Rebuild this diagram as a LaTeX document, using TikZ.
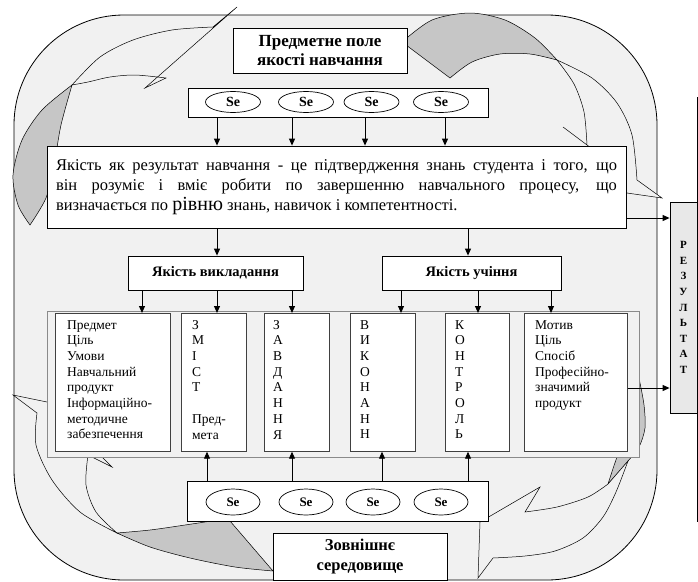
\documentclass[tikz,border=0pt]{standalone}
\usepackage{fontspec}
\setmainfont{Liberation Serif}
\usetikzlibrary{arrows.meta,shapes.geometric}
\definecolor{bgfill}{HTML}{F1F1F1}
\definecolor{backgray}{HTML}{C6C6C6}
\definecolor{resfill}{HTML}{E8E8E8}
\definecolor{framegray}{HTML}{8A8A8A}
\begin{document}
\begin{tikzpicture}[x=1pt,y=-1pt,
  box/.style={draw=black, fill=white, line width=0.8pt, inner sep=0pt},
  colbox/.style={draw=black!75, fill=white, line width=0.7pt, inner sep=0pt, minimum height=138pt, anchor=north west},
  coltext/.style={anchor=north west, inner sep=0pt, align=left, font=\fontsize{13.5}{15.7}\selectfont},
  seell/.style={draw=black, fill=white, ellipse, inner sep=0pt, line width=0.7pt},
  arr/.style={-{Triangle[length=7pt,width=6pt]}, line width=0.9pt},
  front/.style={draw=black, fill=bgfill, line width=0.5pt},
  back/.style={draw=black, fill=backgray, line width=0.5pt},
]
\useasboundingbox (0,0) rectangle (698,581);
% outer rounded field
\draw[fill=bgfill, line width=0.8pt, rounded corners=110pt] (14,15) rectangle (657,580);
% ribbon arrow A (left, up to title)
\draw[back] plot[smooth] coordinates {(72,85) (42,110) (22,140) (13,175) (18,205) (30,225)} -- plot[smooth] coordinates {(30,225) (46,198) (54,165) (61,125) (72,85)} -- cycle;
\draw[front] plot[smooth] coordinates {(72,85) (100,57) (133,40) (172,30) (213,27)} -- (237,7) -- (145,88) -- (166,78) -- plot[smooth] coordinates {(166,78) (135,75) (110,77) (88,82) (72,85)} -- cycle;
% ribbon arrow B (top right, down to result)
\draw[back] (402,42) -- plot[smooth] coordinates {(402,42) (432,20) (470,13) (505,20) (535,38) (557,60)} -- plot[smooth] coordinates {(557,60) (530,54) (500,54) (472,62) (450,78)} -- cycle;
\draw[front] plot[smooth] coordinates {(557,60) (592,78) (617,103) (632,135) (637,180)} -- (662,198) -- (627,193) -- (611,163) -- (563,127) -- (587,145) -- plot[smooth] coordinates {(587,145) (584,112) (574,84) (557,60)} -- cycle;
% ribbon arrow C (right, down to bottom)
\draw[back] plot[smooth] coordinates {(640,383) (644,405) (645,428) (639,447) (628,461) (608,484)} -- plot[smooth] coordinates {(608,484) (617,457) (628,430) (636,405) (640,383)} -- cycle;
\draw[front] plot[smooth] coordinates {(628,461) (616,492) (603,517) (583,538) (555,551) (525,556) (493,558)} -- (478,578) -- (480,522) -- (540,487) -- (525,512) -- plot[smooth] coordinates {(525,512) (557,507) (588,497) (608,484)} -- cycle;
% ribbon arrow D (bottom, left and up)
\draw[back] (218,520) -- (230,521) -- (273,571) -- plot[smooth] coordinates {(273,571) (235,567) (190,558) (150,547) (117,533)} -- plot[smooth] coordinates {(117,533) (150,530) (185,525) (218,520)} -- cycle;
\draw[front] plot[smooth] coordinates {(117,533) (80,512) (52,480) (36,445) (37,413)} -- (13,395) -- (47,402) -- (70,425) -- (100,455) -- (112,467) -- (88,455) -- plot[smooth] coordinates {(88,455) (86,485) (96,512) (117,533)} -- cycle;

% top title and Se row
\node[box, minimum width=174pt, minimum height=45pt, align=center, font=\bfseries\fontsize{17}{19.5}\selectfont] (title) at (320,50.5) {Предметне поле\\якості навчання};
\node[box, minimum width=300pt, minimum height=29pt] (setop) at (338,102.5) {};
\foreach \i/\x in {1/233,2/306,3/371.5,4/441}
  \node[seell, minimum width=55pt, minimum height=21pt, font=\bfseries\fontsize{14}{14}\selectfont] (st\i) at (\x,102) {Se};

% main definition box
\node[box, minimum width=579pt, minimum height=82pt, text width=561pt, align=justify, font=\fontsize{16.5}{20}\selectfont] (main) at (336.5,187) {\hyphenpenalty=10000 Якість як результат навчання - це підтвердження знань студента і того, що\linebreak він розуміє і вміє робити по завершенню навчального процесу, що\linebreak визначається по {\fontsize{20}{20}\selectfont рівню} знань, навичок і компетентності.};

\foreach \x in {217,292,365,445}
  \draw[arr] (\x,0 |- setop.south) -- (\x,0 |- main.north);

% result
\node[draw=black, fill=resfill, line width=0.8pt, minimum width=27pt, minimum height=211pt, inner sep=0pt, align=center, font=\bfseries\fontsize{11}{15.6}\selectfont] (result) at (683.5,307.5) {Р\\Е\\З\\У\\Л\\Ь\\Т\\А\\Т};
\coordinate (vl1) at (697,97);
\coordinate (vl2) at (697,522);
\draw[line width=0.8pt] (vl1) -- (vl2);

% second level
\node[box, minimum width=175pt, minimum height=34pt, font=\bfseries\fontsize{14.5}{14.5}\selectfont] (vk) at (215.5,273) {Якість викладання};
\node[box, minimum width=179pt, minimum height=34pt, font=\bfseries\fontsize{14.5}{14.5}\selectfont] (uch) at (471.5,273) {Якість учіння};
\draw[arr] (217,0 |- main.south) -- (217,0 |- vk.north);
\draw[arr] (468,0 |- main.south) -- (468,0 |- uch.north);
\draw[arr] (main.east |- 0,218) -- (result.west |- 0,218);

% columns
\node[draw=framegray, fill=bgfill, line width=0.8pt, minimum width=592pt, minimum height=146pt, inner sep=0pt] (cframe) at (343,384) {};
\node[colbox, minimum width=115pt] (c1) at (55,313) {};
\node[colbox, minimum width=65pt] (c2) at (181,313) {};
\node[colbox, minimum width=65pt] (c3) at (264,313) {};
\node[colbox, minimum width=65pt] (c4) at (350,313) {};
\node[colbox, minimum width=64pt] (c5) at (445,313) {};
\node[colbox, minimum width=103pt] (c6) at (524,313) {};
\node[coltext] (t1) at (67,320) {Предмет\\Ціль\\Умови\\Навчальний\\продукт\\Інформаційно-\\методичне\\забезпечення};
\node[coltext] (t2) at (192,320) {З\\М\\І\\С\\Т\\\mbox{}\\Пред-\\мета};
\node[coltext] (t3) at (273,320) {З\\А\\В\\Д\\А\\Н\\Н\\Я};
\node[coltext] (t4) at (360,320) {В\\И\\К\\О\\Н\\А\\Н\\Н};
\node[coltext] (t5) at (455,320) {К\\О\\Н\\Т\\Р\\О\\Л\\Ь};
\node[coltext] (t6) at (535,320) {Мотив\\Ціль\\Спосіб\\Професійно-\\значимий\\продукт};

\draw[arr] (142,0 |- vk.south) -- (142,0 |- c1.north);
\draw[arr] (217,0 |- vk.south) -- (217,0 |- c2.north);
\draw[arr] (292,0 |- vk.south) -- (292,0 |- c3.north);
\draw[arr] (401,0 |- uch.south) -- (401,0 |- c4.north);
\draw[arr] (478,0 |- uch.south) -- (478,0 |- c5.north);
\draw[arr] (551,0 |- uch.south) -- (551,0 |- c6.north);
\draw[arr] (c6.east |- 0,388) -- (result.west |- 0,388);

% bottom Se row and environment
\node[box, minimum width=301pt, minimum height=40pt] (sebot) at (337.5,501) {};
\foreach \i/\x in {1/233,2/306,3/373,4/441}
  \node[seell, minimum width=54pt, minimum height=26pt, font=\bfseries\fontsize{13}{13}\selectfont] (sb\i) at (\x,502) {Se};
\draw[arr] (207,0 |- sebot.north) -- (207,0 |- c2.south);
\draw[arr] (292,0 |- sebot.north) -- (292,0 |- c3.south);
\draw[arr] (382,0 |- sebot.north) -- (382,0 |- c4.south);
\draw[arr] (468,0 |- sebot.north) -- (468,0 |- c5.south);
\node[box, minimum width=174pt, minimum height=47pt, align=center, font=\bfseries\fontsize{16.5}{20}\selectfont] (env) at (360,556.5) {Зовнішнє\\середовище};
\end{tikzpicture}
\end{document}
